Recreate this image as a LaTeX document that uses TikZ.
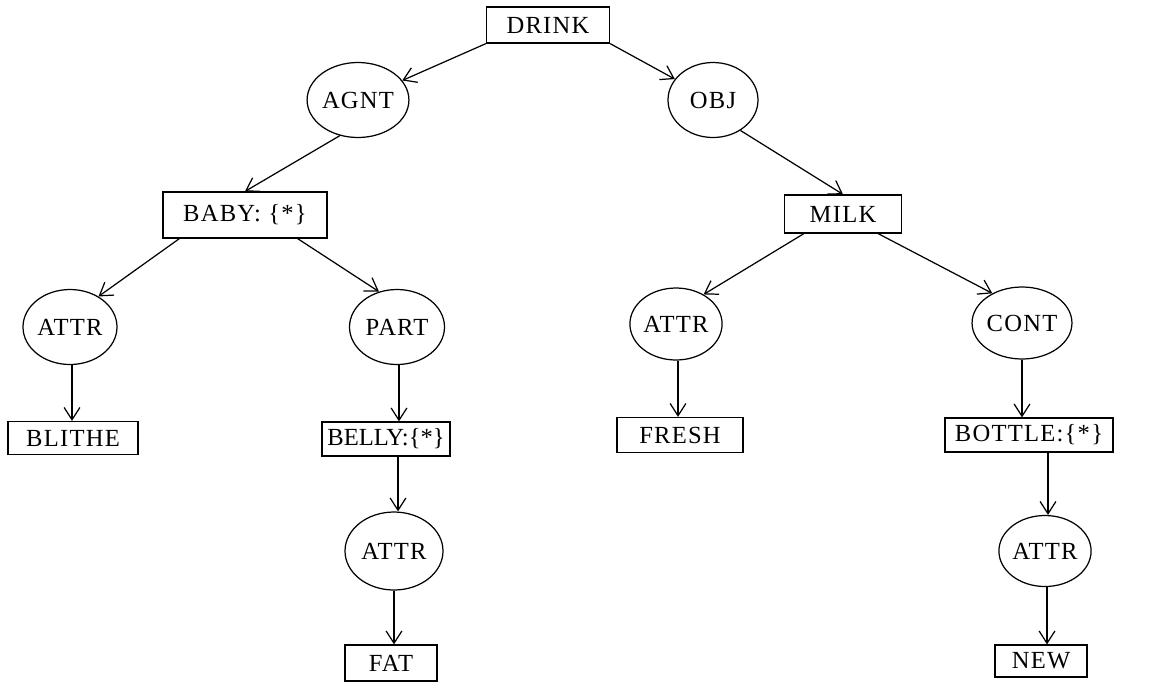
\documentclass[tikz,border=0pt]{standalone}
\usepackage{fontspec}
\setmainfont[LetterSpace=5]{Liberation Serif}
\newfontfamily\tightserif{Liberation Serif}
\usetikzlibrary{shapes.geometric,arrows.meta}
\begin{document}
\begin{tikzpicture}[x=0.02cm,y=-0.02cm,
  every node/.style={font=\fontsize{14}{16}\selectfont, inner sep=0pt},
  concept/.style 2 args={draw, line width=0.7pt, rectangle,
    minimum width=#1*0.02cm, minimum height=#2*0.02cm},
  relation/.style 2 args={draw, line width=0.7pt, ellipse,
    minimum width=#1*0.02cm, minimum height=#2*0.02cm},
  link/.style={line width=0.7pt, -{Straight Barb[length=7pt,width=9pt]}}]
\useasboundingbox (0,0) rectangle (1158,683);

% concept boxes
\node[concept={123}{36}] (drink)  at (548,25)  {DRINK};
\node[concept={164}{46}] (baby)   at (245,215) {BABY: \{*\}};
\node[concept={117}{38}] (milk)   at (843,214) {MILK};
\node[concept={130}{33}] (blithe) at (73,438)  {BLITHE};
\node[concept={128}{34}] (belly)  at (386,439) {\tightserif BELLY:\{*\}};
\node[concept={126}{35}] (fresh)  at (680,435) {FRESH};
\node[concept={168}{34}] (bottle) at (1029,435) {BOTTLE:\{*\}};
\node[concept={92}{36}]  (fat)    at (391,663) {FAT};
\node[concept={92}{32}]  (new)    at (1041,661) {NEW};

% relation ellipses
\node[relation={90}{75}] (agnt)  at (358,100) {AGNT};
\node[relation={90}{75}] (obj)   at (713,100) {OBJ};
\node[relation={94}{75}] (attrA) at (70,327)  {ATTR};
\node[relation={95}{75}] (part)  at (397,327) {PART};
\node[relation={78}{72}] (attrC) at (676,324) {ATTR};
\node[relation={90}{72}] (cont)  at (1022,323) {CONT};
\node[relation={98}{78}] (attrB) at (394,551) {ATTR};
\node[relation={90}{71}] (attrD) at (1045,551) {ATTR};

% arcs
\draw[link] (drink.south west) -- (agnt);
\draw[link] (drink.south east) -- (obj);
\draw[link] (agnt.243) -- (baby.north);
\draw[link] (obj.-48) -- (milk.north);
\draw[link] ([xshift=0.34cm]baby.south west) -- (attrA.47);
\draw[link] ([xshift=-0.6cm]baby.south east) -- (part.117);
\draw[link] ([xshift=0.4cm]milk.south west) -- (attrC.47);
\draw[link] ([xshift=-0.48cm]milk.south east) -- (cont.135);
\draw[link] ([xshift=0.04cm]attrA.south) -- ([xshift=0.04cm]attrA.south |- blithe.north);
\draw[link] ([xshift=0.04cm]part.south) -- ([xshift=0.04cm]part.south |- belly.north);
\draw[link] ([xshift=0.24cm]belly.south) -- ([xshift=0.24cm]belly.south |- attrB.north);
\draw[link] (attrB.south) -- (attrB.south |- fat.north);
\draw[link] ([xshift=0.04cm]attrC.south) -- ([xshift=0.04cm]attrC.south |- fresh.north);
\draw[link] (cont.south) -- (cont.south |- bottle.north);
\draw[link] ([xshift=0.38cm]bottle.south) -- ([xshift=0.38cm]bottle.south |- attrD.north);
\draw[link] ([xshift=0.04cm]attrD.south) -- ([xshift=0.04cm]attrD.south |- new.north);
\end{tikzpicture}
\end{document}
